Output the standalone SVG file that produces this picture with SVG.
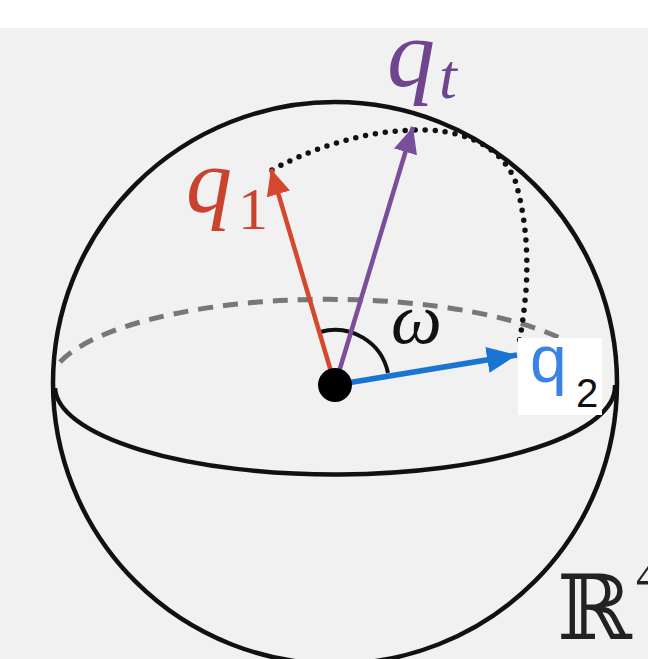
<svg xmlns="http://www.w3.org/2000/svg" width="648" height="659" viewBox="0 0 648 659">
<defs>
<style>
.outline{fill:none;stroke:#111;stroke-width:4.5}
.back{fill:none;stroke:#777;stroke-width:5;stroke-dasharray:15 10}
.dots{fill:none;stroke:#111;stroke-width:5.5;stroke-linecap:round;stroke-dasharray:0 10}
.serif{font-family:"Liberation Serif","DejaVu Serif",serif;font-style:italic}
.sans{font-family:"Liberation Sans","DejaVu Sans",sans-serif}
</style>
<marker id="hRed" markerUnits="userSpaceOnUse" markerWidth="30" markerHeight="30" refX="26" refY="12" orient="auto"><path d="M0,0 L26,12 L0,24 Z" fill="#d4492e"/></marker>
<marker id="hPur" markerUnits="userSpaceOnUse" markerWidth="30" markerHeight="30" refX="26" refY="12" orient="auto"><path d="M0,0 L26,12 L0,24 Z" fill="#7a4e9a"/></marker>
<marker id="hBlue" markerUnits="userSpaceOnUse" markerWidth="34" markerHeight="30" refX="30" refY="13" orient="auto"><path d="M0,0 L30,13 L0,26 Z" fill="#1a74d2"/></marker>
</defs>
<rect x="0" y="0" width="648" height="659" fill="#ffffff"/>
<rect x="0" y="28" width="648" height="631" fill="#f1f1f1"/>
<g id="sphere">
<ellipse class="outline" cx="335" cy="383" rx="282" ry="281"/>
<path class="back" d="M60,362 A280,88 0 0 1 560,338"/>
<path class="outline" d="M55,388 A280,88 0 0 0 615,385"/>
</g>
<g id="great-arc">
<path class="dots" d="M272,170 Q350,128 430,130 Q495,135 515,180 Q530,230 526,290 Q523,325 518,348"/>
</g>
<g id="angle">
<path fill="none" stroke="#111" stroke-width="4" d="M320,332 A54,54 0 0 1 388,373"/>
<text class="serif" x="391" y="343" font-size="72" fill="#111">ω</text>
</g>
<g id="connectors">
<line x1="335" y1="385" x2="271" y2="169" stroke="#d4492e" stroke-width="4.5" marker-end="url(#hRed)"/>
<line x1="335" y1="385" x2="413" y2="127" stroke="#7a4e9a" stroke-width="4.5" marker-end="url(#hPur)"/>
<line x1="335" y1="385" x2="517" y2="355" stroke="#1a74d2" stroke-width="5.5" marker-end="url(#hBlue)"/>
</g>
<g id="origin">
<circle cx="335" cy="385" r="17" fill="#000"/>
</g>
<g id="q1">
<text class="serif" x="186" y="212" font-size="92" fill="#c9432f">q</text>
<text x="238" y="229" font-size="60" fill="#c9432f" font-family="Liberation Serif,serif">1</text>
</g>
<g id="qt">
<text class="serif" x="387" y="86" font-size="96" fill="#6f4590">q</text>
<text class="serif" x="439" y="98" font-size="64" fill="#6f4590">t</text>
</g>
<g id="q2">
<rect x="518" y="338" width="84" height="77" fill="#ffffff"/>
<text class="sans" x="530" y="382" font-size="66" fill="#3b82e6">q</text>
<text class="sans" x="576" y="407" font-size="40" fill="#111">2</text>
</g>
<g id="space">
<text x="557" y="639" font-size="90" fill="#222" font-family="DejaVu Serif,serif">ℝ</text>
<text x="636" y="592" font-size="50" fill="#222" font-family="Liberation Serif,serif">4</text>
</g>
</svg>
